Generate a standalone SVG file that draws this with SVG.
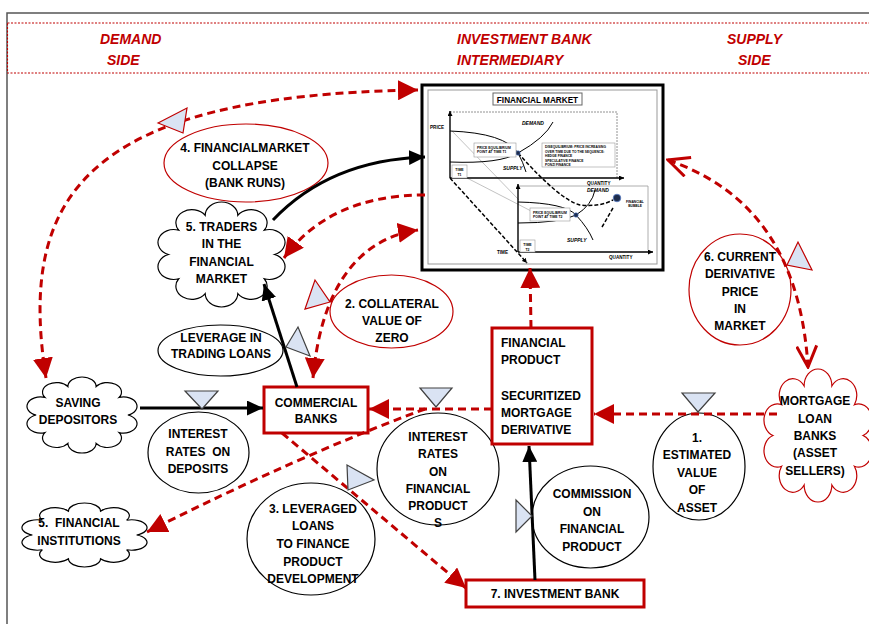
<svg xmlns="http://www.w3.org/2000/svg" xmlns:xlink="http://www.w3.org/1999/xlink" width="869" height="624" viewBox="0 0 869 624">
<style>
.t{font-family:"Liberation Sans",Arial,sans-serif;font-weight:bold;font-size:12px;text-anchor:middle;fill:#000}
.tl{text-anchor:start}
.h{font-family:"Liberation Sans",Arial,sans-serif;font-weight:bold;font-style:italic;font-size:14px;fill:#c00000}
.el{fill:#fff;stroke:#000;stroke-width:1.2}
.elr{fill:#fff;stroke:#c00000;stroke-width:1.2}
.box{fill:#fff;stroke:#c00000;stroke-width:3}
.cb{fill:#fff;stroke:#000;stroke-width:1.2}
.cr{fill:#fff;stroke:#c00000;stroke-width:1.2}
.rd{fill:none;stroke:#c00000;stroke-width:3;stroke-dasharray:8 5}
.bk{fill:none;stroke:#000;stroke-width:3}
.tri{fill:#dae3f3;stroke:#404040;stroke-width:1.2}
.trir{fill:#dae3f3;stroke:#c00000;stroke-width:1.2}
.c{font-family:"Liberation Sans",Arial,sans-serif;font-weight:bold;fill:#000}
.ci{font-style:italic}
.thin{fill:none;stroke:#000;stroke-width:1}
.gb{fill:#fff;stroke:#999;stroke-width:0.6}
</style>
<defs>
<path id="cloud" vector-effect="non-scaling-stroke" d="M88,50 A1,1 0 0 1 80.7,71.2 A1,1 0 0 1 61.7,84.2 A1,1 0 0 1 38.3,84.2 A1,1 0 0 1 19.3,71.2 A1,1 0 0 1 12,50 A1,1 0 0 1 19.3,28.8 A1,1 0 0 1 38.3,15.8 A1,1 0 0 1 61.7,15.8 A1,1 0 0 1 80.7,28.8 A1,1 0 0 1 88,50 Z"/>
<marker id="ar" viewBox="0 0 20 20" refX="20" refY="10" markerWidth="20" markerHeight="20" markerUnits="userSpaceOnUse" orient="auto-start-reverse"><path d="M0,0 L20,10 L0,20 z" fill="#c00000"/></marker>
<marker id="ab" viewBox="0 0 15 14" refX="15" refY="7" markerWidth="16" markerHeight="15" markerUnits="userSpaceOnUse" orient="auto"><path d="M0,0 L15,7 L0,14 z" fill="#000"/></marker>
<marker id="as" viewBox="0 0 6 6" refX="6" refY="3" markerWidth="5" markerHeight="5" markerUnits="userSpaceOnUse" orient="auto"><path d="M0,0 L6,3 L0,6 z" fill="#000"/></marker>
<marker id="av" viewBox="0 0 24 22" refX="22" refY="11" markerWidth="24" markerHeight="22" markerUnits="userSpaceOnUse" orient="auto-start-reverse"><path d="M1,1 L22,11 L1,21" fill="none" stroke="#c00000" stroke-width="3"/></marker>
</defs>
<rect width="869" height="624" fill="#fff"/>
<path d="M7,624 V13 H869" fill="none" stroke="#555" stroke-width="1.5"/>
<g id="header">
<rect x="7.5" y="23" width="870" height="50" fill="none" stroke="#c00000" stroke-width="1.1" stroke-dasharray="2 1.5"/>
<text class="h" x="100" y="44">DEMAND</text>
<text class="h" x="107" y="65">SIDE</text>
<text class="h" x="457" y="44">INVESTMENT BANK</text>
<text class="h" x="457" y="65">INTERMEDIARY</text>
<text class="h" x="727" y="44">SUPPLY</text>
<text class="h" x="738" y="65">SIDE</text>
</g>
<g id="financial-market">
<rect x="422" y="85" width="241" height="185" fill="#fff" stroke="#000" stroke-width="3"/>
<rect x="428" y="90" width="229" height="174" fill="none" stroke="#999" stroke-width="1"/>
<rect x="493" y="93" width="89" height="12" fill="#fff" stroke="#666" stroke-width="1"/>
<text class="c" x="537.5" y="102.5" font-size="8.2" text-anchor="middle">FINANCIAL MARKET</text>
<path d="M450,112 H617 V178" fill="none" stroke="#777" stroke-width="0.8" stroke-dasharray="2 1"/>
<path d="M518,186 H648 V250" fill="none" stroke="#999" stroke-width="0.8"/>
<path d="M452,131 L519,200 M467,178 L533,212" fill="none" stroke="#999" stroke-width="0.6"/>
<line x1="450" y1="178" x2="450" y2="111" stroke="#000" stroke-width="1.4" marker-end="url(#as)"/>
<line x1="450" y1="178" x2="624" y2="178" stroke="#000" stroke-width="1.4" marker-end="url(#as)"/>
<line x1="518" y1="252" x2="518" y2="184" stroke="#000" stroke-width="1.4" marker-end="url(#as)"/>
<line x1="518" y1="252" x2="653" y2="252" stroke="#000" stroke-width="1.4" marker-end="url(#as)"/>
<line x1="450" y1="178" x2="527" y2="263" stroke="#000" stroke-width="1.5" stroke-dasharray="4 2" marker-end="url(#as)"/>
<path class="thin" d="M450,131 Q505,133 518,153 Q523,162 526,172"/>
<path class="thin" d="M450,162 Q500,164 518,153 Q545,138 553,122"/>
<path class="thin" d="M518,202 Q565,203 576,215 Q588,228 593,240"/>
<path class="thin" d="M518,223 Q560,223 576,215 Q592,205 595,190"/>
<path d="M518,153 Q560,200 580,205 Q600,207 613,200 M602,227 L613,208" fill="none" stroke="#000" stroke-width="1.5" stroke-dasharray="4 2"/>
<circle cx="518" cy="153" r="2.2" fill="#1f2d4d" stroke="#4472c4" stroke-width="0.6"/>
<circle cx="576" cy="215" r="2.2" fill="#1f2d4d" stroke="#4472c4" stroke-width="0.6"/>
<circle cx="617" cy="198" r="3.8" fill="#1f2d4d" stroke="#5b7fc7" stroke-width="0.8"/>
<rect class="gb" x="474" y="143" width="42" height="14"/>
<text class="c" font-size="3.4" x="477" y="148.5">PRICE EQUILIBRIUM</text>
<text class="c" font-size="3.4" x="477" y="153">POINT AT TIME T1</text>
<rect class="gb" x="542" y="143" width="73" height="24"/>
<text class="c" font-size="3.3" x="545" y="148">DISEQUILIBRIUM: PRICE INCREASING</text>
<text class="c" font-size="3.3" x="545" y="152.5">OVER TIME DUE TO THE SEQUENCE:</text>
<text class="c" font-size="3.3" x="545" y="157">HEDGE FINANCE</text>
<text class="c" font-size="3.3" x="545" y="161.5">SPECULATIVE FINANCE</text>
<text class="c" font-size="3.3" x="545" y="166">PONZI FINANCE</text>
<rect class="gb" x="452" y="165" width="15" height="13"/>
<text class="c" font-size="3.5" x="459.5" y="171" text-anchor="middle">TIME</text>
<text class="c" font-size="3.5" x="459.5" y="176" text-anchor="middle">T1</text>
<rect class="gb" x="530" y="208" width="40" height="13"/>
<text class="c" font-size="3.4" x="533" y="213.5">PRICE EQUILIBRIUM</text>
<text class="c" font-size="3.4" x="533" y="218">POINT AT TIME T2</text>
<rect class="gb" x="520" y="240" width="15" height="12"/>
<text class="c" font-size="3.5" x="527.5" y="245.5" text-anchor="middle">TIME</text>
<text class="c" font-size="3.5" x="527.5" y="250.5" text-anchor="middle">T2</text>
<text class="c" font-size="4.6" x="430" y="129">PRICE</text>
<text class="c ci" font-size="5" x="522" y="125">DEMAND</text>
<text class="c ci" font-size="5" x="503" y="170">SUPPLY</text>
<text class="c" font-size="4.6" x="587" y="185">QUANTITY</text>
<text class="c ci" font-size="5" x="587" y="192">DEMAND</text>
<text class="c ci" font-size="5" x="567" y="242">SUPPLY</text>
<text class="c" font-size="3.3" x="635" y="203" text-anchor="middle">FINANCIAL</text>
<text class="c" font-size="3.3" x="635" y="207" text-anchor="middle">BUBBLE</text>
<text class="c" font-size="4.6" x="497" y="254">TIME</text>
<text class="c" font-size="4.6" x="609" y="259">QUANTITY</text>
</g>
<g id="saving-depositors">
<use xlink:href="#cloud" class="cb" transform="translate(21.63,373.61) scale(1.2075,0.8279)"/>
<text class="t" x="78" y="407">SAVING</text>
<text class="t" x="78" y="424">DEPOSITORS</text>
</g>
<g id="financial-institutions">
<use xlink:href="#cloud" class="cb" transform="translate(15.89,500.14) scale(1.3721,0.6972)"/>
<text class="t" x="79" y="527">5.&#160; FINANCIAL</text>
<text class="t" x="79" y="545">INSTITUTIONS</text>
</g>
<g id="traders">
<use xlink:href="#cloud" class="cb" transform="translate(151.8,197.31) scale(1.394,1.1438)"/>
<text class="t" x="221.5" y="231">5. TRADERS</text>
<text class="t" x="221.5" y="248">IN THE</text>
<text class="t" x="221.5" y="266">FINANCIAL</text>
<text class="t" x="221.5" y="283">MARKET</text>
</g>
<g id="mortgage-banks">
<use xlink:href="#cloud" class="cr" transform="translate(758.72,363.06) scale(1.1855,1.4488)"/>
<text class="t" x="815" y="405">MORTGAGE</text>
<text class="t" x="815" y="423">LOAN</text>
<text class="t" x="815" y="440">BANKS</text>
<text class="t" x="815" y="457">(ASSET</text>
<text class="t" x="815" y="475">SELLERS)</text>
</g>
<g id="collapse">
<ellipse class="elr" cx="246" cy="163" rx="82" ry="39"/>
<text class="t" x="245" y="152">4. FINANCIALMARKET</text>
<text class="t" x="245" y="170">COLLAPSE</text>
<text class="t" x="245" y="187">(BANK RUNS)</text>
</g>
<g id="leverage-trading">
<ellipse class="el" cx="220.5" cy="350.5" rx="62.5" ry="25.5"/>
<text class="t" x="221" y="342">LEVERAGE IN</text>
<text class="t" x="221" y="358">TRADING LOANS</text>
</g>
<g id="collateral">
<ellipse class="elr" cx="391.5" cy="311.5" rx="61.5" ry="36.5"/>
<text class="t" x="392" y="308">2. COLLATERAL</text>
<text class="t" x="392" y="325">VALUE OF</text>
<text class="t" x="392" y="342">ZERO</text>
</g>
<g id="current-price">
<ellipse class="elr" cx="740" cy="289.5" rx="51" ry="55.5"/>
<text class="t" x="740" y="261">6. CURRENT</text>
<text class="t" x="740" y="278">DERIVATIVE</text>
<text class="t" x="740" y="296">PRICE</text>
<text class="t" x="740" y="313">IN</text>
<text class="t" x="740" y="330">MARKET</text>
</g>
<g id="rates-deposits">
<ellipse class="el" cx="198.5" cy="452.5" rx="50.5" ry="40.5"/>
<text class="t" x="198" y="438">INTEREST</text>
<text class="t" x="198" y="456">RATES&#160; ON</text>
<text class="t" x="198" y="473">DEPOSITS</text>
</g>
<g id="commercial-banks">
<rect class="box" x="264" y="387" width="104" height="46"/>
<text class="t" x="316" y="407">COMMERCIAL</text>
<text class="t" x="316" y="423">BANKS</text>
</g>
<g id="leveraged-loans">
<ellipse class="el" cx="311" cy="539" rx="64" ry="56"/>
<text class="t" x="313" y="513">3. LEVERAGED</text>
<text class="t" x="313" y="530">LOANS</text>
<text class="t" x="313" y="548">TO FINANCE</text>
<text class="t" x="313" y="566">PRODUCT</text>
<text class="t" x="313" y="583">DEVELOPMENT</text>
</g>
<g id="rates-products">
<ellipse class="el" cx="438" cy="469" rx="61" ry="56"/>
<text class="t" x="438" y="441">INTEREST</text>
<text class="t" x="438" y="458">RATES</text>
<text class="t" x="438" y="476">ON</text>
<text class="t" x="438" y="493">FINANCIAL</text>
<text class="t" x="438" y="510">PRODUCT</text>
<text class="t" x="438" y="527">S</text>
</g>
<g id="financial-product">
<rect class="box" x="492" y="328" width="100" height="116"/>
<text class="t tl" x="501" y="347">FINANCIAL</text>
<text class="t tl" x="501" y="364">PRODUCT</text>
<text class="t tl" x="501" y="400">SECURITIZED</text>
<text class="t tl" x="501" y="417">MORTGAGE</text>
<text class="t tl" x="501" y="434">DERIVATIVE</text>
</g>
<g id="commission">
<ellipse class="el" cx="590.5" cy="517" rx="58.5" ry="51"/>
<text class="t" x="592" y="498">COMMISSION</text>
<text class="t" x="592" y="516">ON</text>
<text class="t" x="592" y="533">FINANCIAL</text>
<text class="t" x="592" y="551">PRODUCT</text>
</g>
<g id="estimated-value">
<ellipse class="el" cx="699" cy="466.5" rx="46" ry="53.5"/>
<text class="t" x="697" y="442">1.</text>
<text class="t" x="697" y="459">ESTIMATED</text>
<text class="t" x="697" y="477">VALUE</text>
<text class="t" x="697" y="494">OF</text>
<text class="t" x="697" y="512">ASSET</text>
</g>
<g id="investment-bank">
<rect class="box" x="466" y="580" width="178" height="27"/>
<text class="t" x="555" y="598">7. INVESTMENT BANK</text>
</g>
<g id="connectors">
<path class="rd" d="M46,378 C18,200 80,95 418,90" marker-start="url(#ar)" marker-end="url(#ar)"/>
<path class="bk" d="M273,220 Q330,160 425,157" marker-end="url(#ab)"/>
<path class="rd" d="M425,195 Q330,195 284,258" marker-end="url(#ar)"/>
<path class="rd" d="M313,378 C320,300 350,240 418,230" marker-start="url(#ar)" marker-end="url(#ar)"/>
<path class="bk" d="M297,387 L264,284" marker-end="url(#ab)"/>
<path class="bk" d="M140,408 L263,408" marker-end="url(#ab)"/>
<path class="rd" d="M492,409 L369,409" marker-end="url(#ar)"/>
<path class="rd" d="M425,409 Q300,455 147,532" marker-end="url(#ar)"/>
<path class="rd" d="M777,414 L594,414" marker-end="url(#ar)"/>
<path class="rd" d="M531,328 L530,268" marker-end="url(#ar)"/>
<path class="bk" d="M535,580 L529,446" marker-end="url(#ab)"/>
<path class="rd" d="M282,433 L466,588" marker-end="url(#ar)"/>
<path class="rd" d="M668,160 C740,185 800,240 808,367" marker-start="url(#av)" marker-end="url(#av)"/>
</g>
<g id="markers">
<polygon class="trir" points="158,123 187,108 183,133"/>
<polygon class="trir" points="305,309 315,280 330,302"/>
<polygon class="tri" points="286,347 298,327 310,356"/>
<polygon class="tri" points="185,391 218,391 202,409"/>
<polygon class="tri" points="420,388 452,388 436,407"/>
<polygon class="tri" points="347,465 348,490 374,480"/>
<polygon class="tri" points="516,500 516,532 532,516"/>
<polygon class="trir" points="787,265 798,242 812,270"/>
<polygon class="tri" points="682,393 715,393 698,412"/>
</g>
</svg>
